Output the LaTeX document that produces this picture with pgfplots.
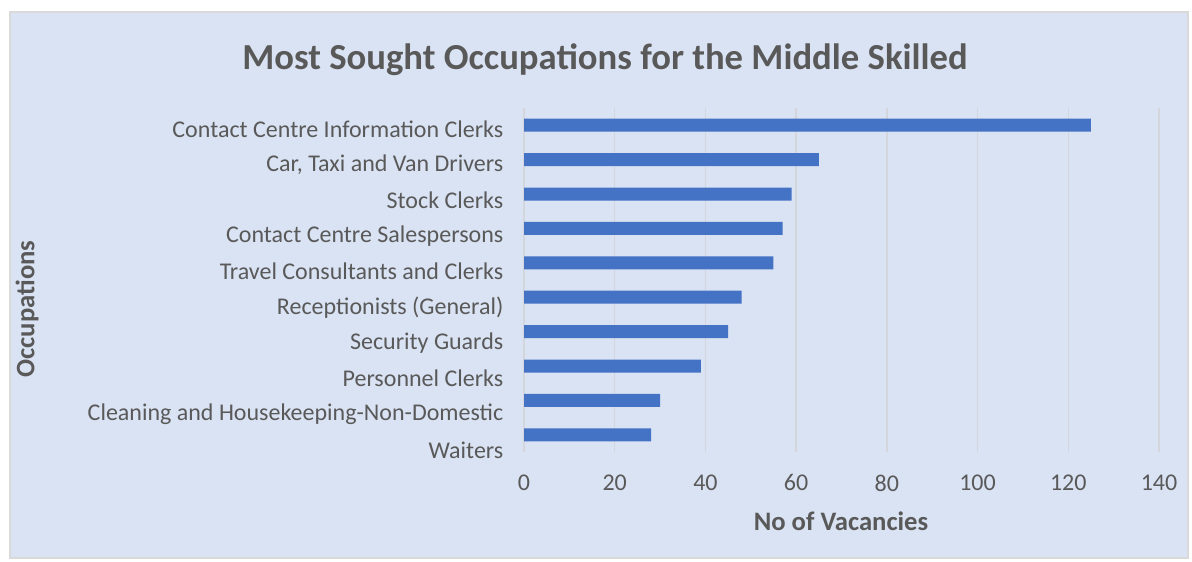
\documentclass[border=0pt]{standalone}
\usepackage{pgfplots}
\pgfplotsset{compat=1.18}
\usepackage{fontspec}
\setmainfont{Carlito}
\definecolor{bgblue}{HTML}{DAE3F3}
\definecolor{barblue}{HTML}{4472C4}
\definecolor{txt}{HTML}{595959}
\definecolor{gridc}{HTML}{D3D6DC}
\definecolor{frame}{HTML}{D9D9D9}
\begin{document}
\begin{tikzpicture}
\fill[white] (0pt,0pt) rectangle (894pt,420.75pt);
\filldraw[fill=bgblue,draw=frame,line width=1.5pt] (7.5pt,2.25pt) rectangle (891pt,411.75pt);
\begin{axis}[
  at={(393pt,81.75pt)}, anchor=south west,
  scale only axis, width=476.25pt, height=258pt,
  xbar, bar width=9.75pt,
  xmin=0, xmax=140, xtick={0,20,...,140},
  ymin=-0.5, ymax=9.5,
  ytick={-0.442,0.595,1.632,2.669,3.706,4.743,5.780,6.817,7.854,8.891},
  yticklabels={Waiters, Cleaning and Housekeeping-Non-Domestic, Personnel Clerks, Security Guards, Receptionists (General), Travel Consultants and Clerks, Contact Centre Salespersons, Stock Clerks, {Car, Taxi and Van Drivers}, Contact Centre Information Clerks},
  axis line style={draw=none},
  major tick length=0pt,
  xmajorgrids, grid style={draw=gridc, line width=1pt},
  tick label style={font=\fontsize{18}{21}\selectfont, text=txt},
  /pgf/number format/assume math mode=true,
  yticklabel style={xshift=-12pt},
  xticklabel style={yshift=-13.5pt},
]
\addplot[fill=barblue, draw=none] coordinates {
(28,0) (30,1) (39,2) (45,3) (48,4) (55,5) (57,6) (59,7) (65,8) (125,9)};
\end{axis}
\node[text=txt, font=\fontsize{27.5}{32}\selectfont\bfseries] at (453.75pt,375.75pt) {Most Sought Occupations for the Middle Skilled};
\node[text=txt, font=\fontsize{20}{24}\selectfont\bfseries] at (630.75pt,30pt) {No of Vacancies};
\node[text=txt, font=\fontsize{20}{24}\selectfont\bfseries, rotate=90] at (20.25pt,189pt) {Occupations};
\end{tikzpicture}
\end{document}
